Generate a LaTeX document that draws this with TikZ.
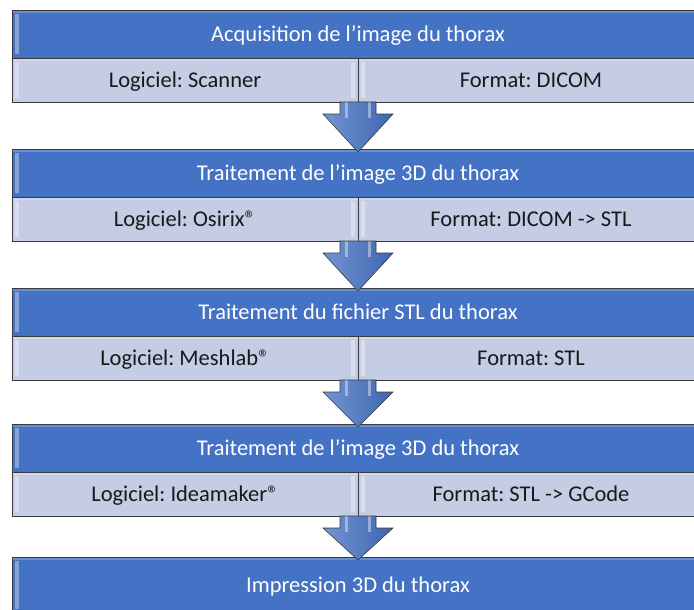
\documentclass[tikz,border=0pt]{standalone}
\usepackage{fontspec}
\setmainfont{Carlito}
\frenchspacing
\usetikzlibrary{positioning,calc}
\definecolor{hdrblue}{HTML}{4472C4}
\definecolor{cellblue}{HTML}{C5CDE5}
\definecolor{edgegray}{HTML}{3A3A3A}
\tikzset{
  bevel/.style={path picture={
      \fill[white,opacity=.35] ([shift={(3pt,-4pt)}]path picture bounding box.north west) rectangle ([shift={(7pt,4pt)}]path picture bounding box.south west);
      \fill[white,opacity=.35] ([shift={(-7pt,-4pt)}]path picture bounding box.north east) rectangle ([shift={(-3pt,4pt)}]path picture bounding box.south east);
      \fill[white,opacity=.2] (path picture bounding box.north west) rectangle ([shift={(0pt,-3pt)}]path picture bounding box.north east);}},
  stage/.style={draw=edgegray, line width=0.8pt, fill=hdrblue, text=white, minimum width=692pt, minimum height=48pt,
    inner sep=0pt, outer sep=0pt, text height=14.5pt, text depth=0pt, font=\fontsize{22.5}{27}\selectfont, bevel},
  detail/.style={draw=edgegray, line width=0.8pt, fill=cellblue, text=black!90, minimum width=346pt, minimum height=44pt,
    inner sep=0pt, outer sep=0pt, text height=14.5pt, text depth=0pt, font=\fontsize{22.5}{27}\selectfont, bevel},
  flow/.style={draw=edgegray, line width=0.6pt, line join=miter, left color=hdrblue!75!white, right color=hdrblue!90!black,
    path picture={
      \fill[white,opacity=.4] ([shift={(-13pt,0pt)}]path picture bounding box.north) rectangle ([shift={(-10pt,-16pt)}]path picture bounding box.north);
      \fill[white,opacity=.4] ([shift={(10pt,0pt)}]path picture bounding box.north) rectangle ([shift={(13pt,-16pt)}]path picture bounding box.north);}}
}
% block arrow from a detail row down to the next stage
\newcommand{\flowarrow}[2]{%
  \draw[flow] let \p1=(#1.south east), \p2=(#2.north) in
    (\x1-18pt,\y1) -- (\x1-18pt,\y1-12pt) -- (\x1-35pt,\y1-12pt) -- (\x1,\y2-3pt)
    -- (\x1+35pt,\y1-12pt) -- (\x1+18pt,\y1-12pt) -- (\x1+18pt,\y1) -- cycle;}
\begin{document}
\begin{tikzpicture}[x=1pt, y=-1pt]
  \useasboundingbox (0,0) rectangle (694,610);
  \clip (0,0) rectangle (694,610);
  % acquisition
  \node[stage] (acq) at (358,34) {Acquisition de l’image du thorax};
  \node[detail, below right=0pt and 0pt of acq.south west] (acqsoft) {Logiciel: Scanner};
  \node[detail, right=0pt of acqsoft] (acqfmt) {Format: DICOM};
  % segmentation
  \node[stage] (seg) at (358,173) {Traitement de l’image 3D du thorax};
  \node[detail, below right=0pt and 0pt of seg.south west] (segsoft) {Logiciel: Osirix®};
  \node[detail, right=0pt of segsoft] (segfmt) {Format: DICOM -> STL};
  % mesh
  \node[stage] (mesh) at (358,312) {Traitement du fichier STL du thorax};
  \node[detail, below right=0pt and 0pt of mesh.south west] (meshsoft) {Logiciel: Meshlab®};
  \node[detail, right=0pt of meshsoft] (meshfmt) {Format: STL};
  % slicing
  \node[stage] (slice) at (358,448) {Traitement de l’image 3D du thorax};
  \node[detail, below right=0pt and 0pt of slice.south west] (slicesoft) {Logiciel: Ideamaker®};
  \node[detail, right=0pt of slicesoft] (slicefmt) {Format: STL -> GCode};
  % printing
  \node[stage, minimum height=56pt] (print) at (358,585) {Impression 3D du thorax};
  \flowarrow{acqsoft}{seg}
  \flowarrow{segsoft}{mesh}
  \flowarrow{meshsoft}{slice}
  \flowarrow{slicesoft}{print}
\end{tikzpicture}
\end{document}
